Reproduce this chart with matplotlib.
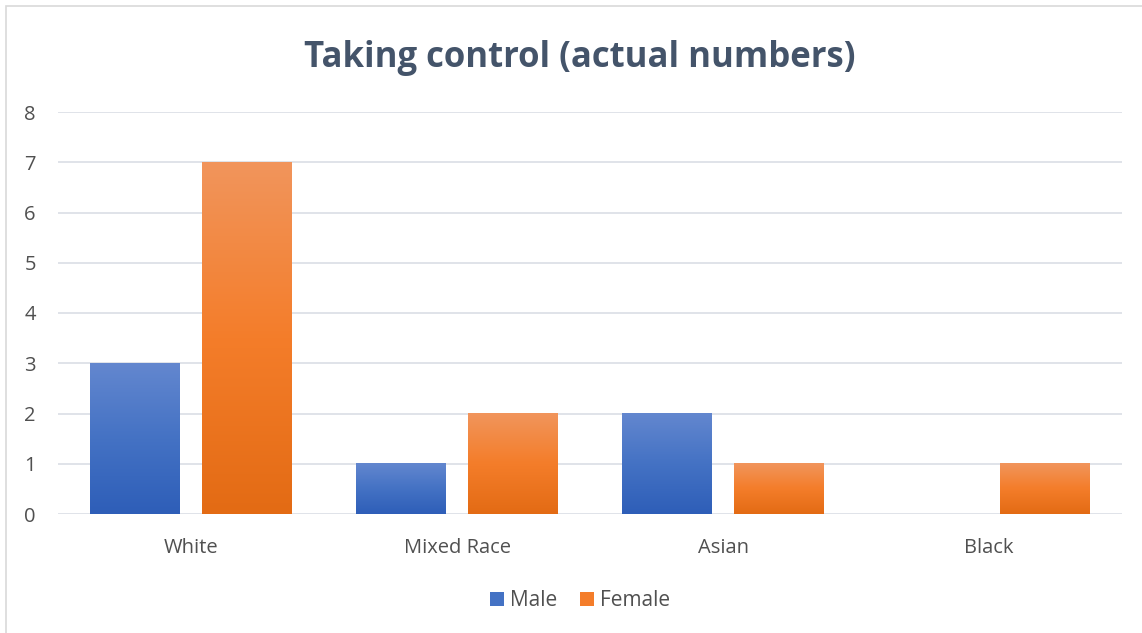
import numpy as np
import matplotlib.pyplot as plt
import matplotlib.patches as patches
from matplotlib.colors import LinearSegmentedColormap

categories = ['White', 'Mixed Race', 'Asian', 'Black']
male = [3, 1, 2, 0]
female = [7, 2, 1, 1]
series = ['Male', 'Female']

plt.rcParams['font.family'] = ['Open Sans', 'DejaVu Sans']

blue_cm = LinearSegmentedColormap.from_list('blue', ['#2e5eb8', '#4472c4', '#6387cf'])
orange_cm = LinearSegmentedColormap.from_list('orange', ['#e36b14', '#f47d2a', '#f1955c'])

fig = plt.figure(figsize=(11.42, 6.33), dpi=100)
ax = fig.add_axes([58 / 1142, 1 - 514 / 633, 1064 / 1142, 402 / 633])

# outer chart frame
fig.patches.append(patches.Rectangle((6 / 1142, -0.05), 1.2, 1 - 6 / 633 + 0.05,
                                     transform=fig.transFigure, fill=False,
                                     edgecolor='#d9d9d9', linewidth=1.2))

x = np.arange(len(categories))
w = 0.338
off = 0.209


def grad_bar(ax, xc, h, cmap):
    if h <= 0:
        return
    grad = np.linspace(0, 1, 256).reshape(-1, 1)
    ax.imshow(grad, cmap=cmap, origin='lower', aspect='auto',
              extent=(xc - w / 2, xc + w / 2, 0, h), zorder=3)


for xi, m, f in zip(x, male, female):
    grad_bar(ax, xi - off, m, blue_cm)
    grad_bar(ax, xi + off, f, orange_cm)

ax.set_xlim(-0.5, len(categories) - 0.5)
ax.set_ylim(0, 8)
ax.set_yticks(range(0, 9))
ax.set_xticks(x)
ax.set_xticklabels(categories)
ax.grid(axis='y', color='#dde1e7', linewidth=1.3, zorder=0)
ax.set_axisbelow(True)
for s in ax.spines.values():
    s.set_visible(False)
ax.tick_params(length=0, labelsize=14.5, colors='#505050')
ax.tick_params(axis='x', pad=17)
ax.tick_params(axis='y', pad=16)

fig.suptitle('Taking control (actual numbers)', x=0.508, y=1 - 58 / 633, va='center',
             fontsize=25, fontweight='bold', color='#44546a')

handles = [patches.Patch(facecolor='#4472c4', label=series[0]),
           patches.Patch(facecolor='#f47d2a', label=series[1])]
fig.legend(handles=handles, loc='center', bbox_to_anchor=(0.508, 1 - 601 / 633), ncol=2,
           frameon=False, fontsize=15, labelcolor='#505050', handlelength=0.65,
           handleheight=0.65, handletextpad=0.3, columnspacing=1.1)

fig.savefig('out.png', dpi=100)
